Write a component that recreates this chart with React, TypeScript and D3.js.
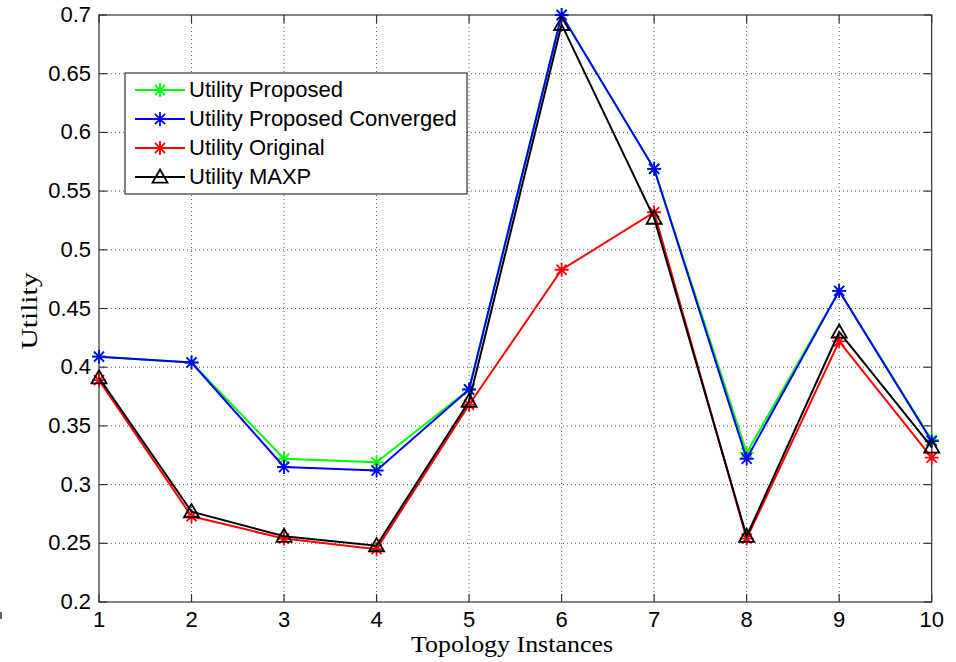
import React, { useEffect, useRef } from 'react';
import * as d3 from 'd3';

const instances = [1, 2, 3, 4, 5, 6, 7, 8, 9, 10];
const utilityProposed = [0.409, 0.404, 0.322, 0.319, 0.381, 0.700, 0.569, 0.327, 0.465, 0.338];
const utilityConverged = [0.409, 0.404, 0.315, 0.312, 0.381, 0.700, 0.569, 0.322, 0.465, 0.337];
const utilityOriginal = [0.389, 0.273, 0.254, 0.245, 0.368, 0.483, 0.532, 0.254, 0.422, 0.323];
const utilityMaxp = [0.391, 0.277, 0.256, 0.248, 0.371, 0.692, 0.527, 0.256, 0.430, 0.332];
const yTicks = [0.2, 0.25, 0.3, 0.35, 0.4, 0.45, 0.5, 0.55, 0.6, 0.65, 0.7];

interface Series {
    name: string;
    values: number[];
    color: string;
    marker: 'star' | 'triangle';
}

const series: Series[] = [
    { name: 'Utility Proposed', values: utilityProposed, color: '#00ff00', marker: 'star' },
    { name: 'Utility Proposed Converged', values: utilityConverged, color: '#0000ff', marker: 'star' },
    { name: 'Utility Original', values: utilityOriginal, color: '#ff0000', marker: 'star' },
    { name: 'Utility MAXP', values: utilityMaxp, color: '#000000', marker: 'triangle' },
];

const App: React.FC = () => {
    const chartRef = useRef<SVGSVGElement>(null);

    useEffect(() => {
        const svg = d3.select(chartRef.current);
        svg.selectAll("*").remove();

        const margin = { top: 15, left: 99 };
        const width = 832.7;
        const height = 587;
        const axisColor = '#333';
        const tickFont = 'Liberation Sans, Arial, Helvetica, sans-serif';

        const x = d3.scaleLinear().domain([1, 10]).range([0, width]);
        const y = d3.scaleLinear().domain([0.2, 0.7]).range([height, 0]);

        svg.append("rect").attr("width", 956).attr("height", 662).attr("fill", "#fff");
        // stray mark at the bottom-left edge
        svg.append("rect").attr("x", 0).attr("y", 612).attr("width", 2).attr("height", 7).attr("fill", "#666");

        const g = svg.append("g")
            .attr("transform", `translate(${margin.left},${margin.top})`);

        // grid
        g.selectAll(".vgrid")
            .data(instances.slice(1, -1))
            .enter().append("line")
            .attr("x1", d => x(d)).attr("x2", d => x(d))
            .attr("y1", 0).attr("y2", height)
            .attr("stroke", "#555").attr("stroke-width", 1)
            .attr("stroke-dasharray", "1,3");
        g.selectAll(".hgrid")
            .data(yTicks.slice(1, -1))
            .enter().append("line")
            .attr("y1", d => y(d)).attr("y2", d => y(d))
            .attr("x1", 0).attr("x2", width)
            .attr("stroke", "#555").attr("stroke-width", 1)
            .attr("stroke-dasharray", "1,3");

        // box
        g.append("rect")
            .attr("width", width).attr("height", height)
            .attr("fill", "none").attr("stroke", axisColor).attr("stroke-width", 1.2);

        // ticks (inside, all four sides)
        const tl = 8;
        instances.forEach(v => {
            g.append("line").attr("x1", x(v)).attr("x2", x(v)).attr("y1", height).attr("y2", height - tl)
                .attr("stroke", axisColor).attr("stroke-width", 1.2);
            g.append("line").attr("x1", x(v)).attr("x2", x(v)).attr("y1", 0).attr("y2", tl)
                .attr("stroke", axisColor).attr("stroke-width", 1.2);
        });
        yTicks.forEach(v => {
            g.append("line").attr("y1", y(v)).attr("y2", y(v)).attr("x1", 0).attr("x2", tl)
                .attr("stroke", axisColor).attr("stroke-width", 1.2);
            g.append("line").attr("y1", y(v)).attr("y2", y(v)).attr("x1", width).attr("x2", width - tl)
                .attr("stroke", axisColor).attr("stroke-width", 1.2);
        });

        // tick labels
        g.selectAll(".xlabel")
            .data(instances)
            .enter().append("text")
            .attr("x", d => x(d)).attr("y", height + 25)
            .attr("text-anchor", "middle")
            .attr("font-family", tickFont).attr("font-size", 22)
            .text(d => String(d));
        g.selectAll(".ylabel")
            .data(yTicks)
            .enter().append("text")
            .attr("x", -8).attr("y", d => y(d) + 7)
            .attr("text-anchor", "end")
            .attr("font-family", tickFont).attr("font-size", 22)
            .text(d => String(+d.toFixed(2)));

        // axis titles
        svg.append("text")
            .attr("x", 512).attr("y", 652)
            .attr("text-anchor", "middle")
            .attr("font-family", "Liberation Serif, Times New Roman, serif").attr("font-size", 24)
            .attr("textLength", 202).attr("lengthAdjust", "spacingAndGlyphs")
            .text("Topology Instances");
        svg.append("text")
            .attr("transform", "translate(37,311) rotate(-90)")
            .attr("text-anchor", "middle")
            .attr("font-family", "Liberation Serif, Times New Roman, serif").attr("font-size", 23)
            .attr("textLength", 77).attr("lengthAdjust", "spacingAndGlyphs")
            .text("Utility");

        const drawMarker = (sel: d3.Selection<SVGGElement, unknown, null, undefined>, s: Series, cx: number, cy: number) => {
            if (s.marker === 'star') {
                const r = 7;
                const d = r * 0.72;
                const path = `M${cx - r},${cy}L${cx + r},${cy}M${cx},${cy - r}L${cx},${cy + r}` +
                    `M${cx - d},${cy - d}L${cx + d},${cy + d}M${cx - d},${cy + d}L${cx + d},${cy - d}`;
                sel.append("path").attr("d", path).attr("stroke", s.color).attr("stroke-width", 1.8).attr("fill", "none");
            } else {
                const r = 7.5;
                const path = `M${cx},${cy - r}L${cx + r},${cy + r * 0.75}L${cx - r},${cy + r * 0.75}Z`;
                sel.append("path").attr("d", path).attr("stroke", s.color).attr("stroke-width", 1.8).attr("fill", "none");
            }
        };

        const line = d3.line<number>()
            .x((_, i) => x(instances[i]))
            .y(d => y(d));

        series.forEach(s => {
            const sg = g.append("g");
            sg.append("path")
                .datum(s.values)
                .attr("d", line)
                .attr("fill", "none")
                .attr("stroke", s.color)
                .attr("stroke-width", 2);
            s.values.forEach((v, i) => drawMarker(sg, s, x(instances[i]), y(v)));
        });

        // legend
        const lg = svg.append("g").attr("transform", "translate(125,73)");
        lg.append("rect")
            .attr("width", 342).attr("height", 121)
            .attr("fill", "#fff").attr("stroke", axisColor).attr("stroke-width", 1.2);
        series.forEach((s, i) => {
            const cy = 17 + i * 29;
            const row = lg.append("g");
            row.append("line").attr("x1", 10).attr("x2", 60).attr("y1", cy).attr("y2", cy)
                .attr("stroke", s.color).attr("stroke-width", 2);
            drawMarker(row, s, 35, cy);
            row.append("text")
                .attr("x", 64).attr("y", cy + 7)
                .attr("font-family", tickFont).attr("font-size", 22)
                .text(s.name);
        });
    }, []);

    return (
        <svg ref={chartRef} width="956" height="662"
            style={{ position: 'absolute', left: 0, top: 0 }}></svg>
    );
};

export default App;
